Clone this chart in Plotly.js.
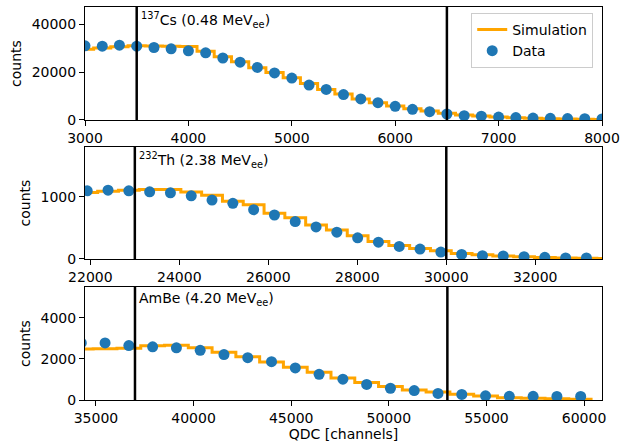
<!DOCTYPE html>
<html><head><meta charset="utf-8">
<script src="https://cdn.plot.ly/plotly-3.0.1.min.js"></script>
<style>body{margin:0;background:#fff;} #plot{width:620px;height:446px;}</style>
</head><body><div id="plot"></div>
<script>
// ---------- Panel 1: 137Cs ----------
const csX = [3000,3167,3333,3500,3667,3833,4000,4167,4333,4500,4667,4833,5000,5167,5333,5500,5667,5833,6000,6167,6333,6500,6667,6833,7000,7167,7333,7500,7667,7833,8000];
const csData = [30970,30830,31250,30830,30280,29720,28890,28060,25900,24170,21940,19650,17500,14580,12780,10600,8800,7220,5690,4440,3470,2500,1810,1600,1200,1000,800,694,600,550,450];
const csSimX = csX;
const csSim = [29600,30100,30600,31000,30900,30800,30700,28750,26400,24300,21800,19860,17640,15280,12780,10830,8750,7220,5830,4720,3750,2780,2080,1670,1250,970,690,560,420,300,250];
const csCuts = [3500, 6500];
const csLabel = "<sup>137</sup>Cs (0.48 MeV<sub>ee</sub>)";

// ---------- Panel 2: 232Th ----------
const thX = [21930,22398,22865,23333,23800,24268,24735,25203,25670,26138,26605,27073,27540,28008,28475,28943,29410,29878,30345,30813,31280,31748,32215,32683,33150];
const thData = [1096,1106,1096,1080,1064,1016,947,894,793,707,601,516,431,340,271,202,160,112,74,53,48,37,27,16,16];
const thSimX = [21463,21930,22398,22865,23333,23800,24268,24735,25203,25670,26138,26605,27073,27540,28008,28475,28943,29410,29878,30345,30813,31280,31748,32215,32683,33150,33618];
const thSim = [1050,1068,1089,1105,1116,1116,1078,1025,930,870,734,664,547,467,372,281,217,170,132,90,69,48,37,26,16,11,8];
const thCuts = [23000, 30000];
const thLabel = "<sup>232</sup>Th (2.38 MeV<sub>ee</sub>)";

// ---------- Panel 3: AmBe ----------
const abX = [34250,35468,36686,37904,39122,40340,41558,42776,43994,45212,46430,47648,48866,50084,51302,52520,53738,54956,56174,57392,58610,59828];
const abData = [2780,2780,2650,2590,2540,2420,2210,2060,1865,1560,1250,1015,760,572,458,320,270,205,180,180,172,175];
const abSimX = abX;
const abSim = [2480,2500,2520,2640,2670,2540,2330,2100,1850,1600,1345,1066,853,656,492,394,279,197,115,82,66,40];
const abCuts = [37000, 53000];
const abLabel = "AmBe (4.20 MeV<sub>ee</sub>)";

const BLUE = '#1f77b4', ORANGE = '#ffa500';
const FONT = 'DejaVu Sans, sans-serif';
const FS = 14;

function histEdges(c, v) {
  const w = c[1] - c[0];
  const x = c.map(ci => ci - w / 2);
  x.push(c[c.length - 1] + w / 2);
  const y = v.slice();
  y.push(v[v.length - 1]);
  return {x, y};
}

const panels = [
  {x: csX, d: csData, sx: csSimX, s: csSim, cuts: csCuts, label: csLabel, ax: ''},
  {x: thX, d: thData, sx: thSimX, s: thSim, cuts: thCuts, label: thLabel, ax: '2'},
  {x: abX, d: abData, sx: abSimX, s: abSim, cuts: abCuts, label: abLabel, ax: '3'}
];

const traces = [];
const shapes = [];
const annotations = [];
panels.forEach((p, i) => {
  const h = histEdges(p.sx, p.s);
  traces.push({
    x: h.x, y: h.y, type: 'scatter', mode: 'lines',
    line: {shape: 'hv', color: ORANGE, width: 3},
    name: 'Simulation', showlegend: i === 0,
    xaxis: 'x' + p.ax, yaxis: 'y' + p.ax, cliponaxis: true
  });
  traces.push({
    x: p.x, y: p.d, type: 'scatter', mode: 'markers',
    marker: {color: BLUE, size: 11},
    error_y: {type: 'sqrt', color: BLUE, thickness: 1.5, width: 0},
    name: 'Data', showlegend: i === 0,
    xaxis: 'x' + p.ax, yaxis: 'y' + p.ax, cliponaxis: true
  });
  p.cuts.forEach(c => {
    shapes.push({type: 'line', xref: 'x' + p.ax, yref: 'y' + p.ax + ' domain',
      x0: c, x1: c, y0: 0, y1: 1, line: {color: '#000', width: 2.5}, layer: 'above'});
  });
  annotations.push({xref: 'x' + p.ax, yref: 'y' + p.ax + ' domain', x: p.cuts[0], y: 1,
    xanchor: 'left', yanchor: 'top', xshift: 2, yshift: -1, showarrow: false,
    text: p.label, font: {family: FONT, size: FS, color: '#000'}});
});

const axBase = {
  showline: true, mirror: true, linecolor: '#000', linewidth: 1,
  ticks: 'outside', ticklen: 5, tickwidth: 1, tickcolor: '#000',
  showgrid: false, zeroline: false, tickformat: 'd', ticklabeloverflow: 'allow',
  tickfont: {family: FONT, size: FS, color: '#000'}
};
const ytitle = {text: 'counts', font: {family: FONT, size: FS, color: '#000'}, standoff: 6};

const layout = {
  width: 620, height: 446,
  margin: {l: 85, r: 18, t: 7, b: 46},
  paper_bgcolor: '#fff', plot_bgcolor: '#fff',
  font: {family: FONT, size: FS, color: '#000'},
  showlegend: true,
  legend: {x: 0.983, xanchor: 'right', y: 0.985, yanchor: 'top',
    bordercolor: '#cccccc', borderwidth: 1, bgcolor: 'rgba(255,255,255,0.8)',
    font: {family: FONT, size: FS, color: '#000'}},
  xaxis: Object.assign({}, axBase, {anchor: 'y', domain: [0, 1], range: [3000, 8000], dtick: 1000, tick0: 0}),
  yaxis: Object.assign({}, axBase, {anchor: 'x', domain: [0.7125, 1], range: [0, 47200], dtick: 20000, tick0: 0, title: ytitle}),
  xaxis2: Object.assign({}, axBase, {anchor: 'y2', domain: [0, 1], range: [21880, 33500], dtick: 2000, tick0: 0}),
  yaxis2: Object.assign({}, axBase, {anchor: 'x2', domain: [0.3588, 0.6438], range: [0, 1800], dtick: 1000, tick0: 0, title: ytitle}),
  xaxis3: Object.assign({}, axBase, {anchor: 'y3', domain: [0, 1], range: [34440, 60920], dtick: 5000, tick0: 0,
    title: {text: 'QDC [channels]', font: {family: FONT, size: FS, color: '#000'}, standoff: 3}}),
  yaxis3: Object.assign({}, axBase, {anchor: 'x3', domain: [0, 0.2875], range: [0, 5500], dtick: 2000, tick0: 0, title: ytitle}),
  shapes: shapes,
  annotations: annotations
};

Plotly.newPlot('plot', traces, layout, {displayModeBar: false, staticPlot: true});
</script>
</body></html>
